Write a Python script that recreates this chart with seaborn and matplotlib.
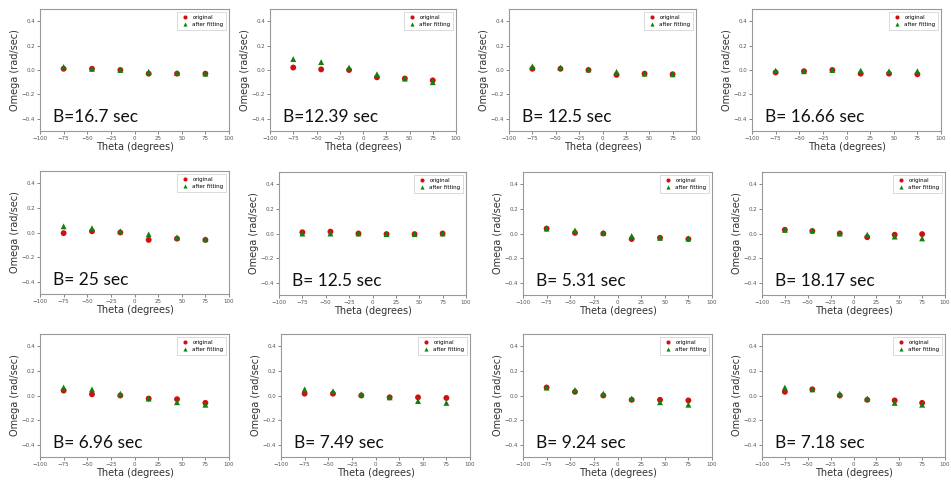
import numpy as np
import pandas as pd
import matplotlib
matplotlib.use("Agg")
import matplotlib.pyplot as plt
import seaborn as sns

# theta positions (degrees) shared by every panel
theta = [-75, -45, -15, 15, 45, 75]

# panel titles, row by row
b_labels = ["B=16.7 sec", "B=12.39 sec", "B= 12.5 sec", "B= 16.66 sec",
            "B= 25 sec", "B= 12.5 sec", "B= 5.31 sec", "B= 18.17 sec",
            "B= 6.96 sec", "B= 7.49 sec", "B= 9.24 sec", "B= 7.18 sec"]

# omega values (rad/sec)
original = [
    [0.01, 0.01, 0.0, -0.03, -0.03, -0.03],
    [0.02, 0.005, 0.0, -0.06, -0.07, -0.085],
    [0.01, 0.01, 0.0, -0.04, -0.03, -0.035],
    [-0.02, -0.01, 0.0, -0.03, -0.03, -0.035],
    [-0.005, 0.01, 0.0, -0.06, -0.05, -0.06],
    [0.01, 0.015, 0.0, -0.005, -0.005, 0.0],
    [0.04, 0.005, 0.0, -0.045, -0.035, -0.045],
    [0.03, 0.02, 0.0, -0.03, -0.01, -0.005],
    [0.04, 0.01, 0.0, -0.025, -0.03, -0.06],
    [0.015, 0.015, 0.0, -0.015, -0.015, -0.02],
    [0.065, 0.03, 0.0, -0.035, -0.035, -0.04],
    [0.03, 0.05, 0.0, -0.035, -0.04, -0.06],
]
after_fitting = [
    [0.025, 0.01, 0.0, -0.015, -0.025, -0.03],
    [0.09, 0.065, 0.02, -0.035, -0.07, -0.10],
    [0.03, 0.02, 0.005, -0.015, -0.03, -0.035],
    [-0.005, -0.01, 0.0, -0.005, -0.01, -0.01],
    [0.05, 0.035, 0.01, -0.015, -0.04, -0.055],
    [0.0, 0.0, 0.0, -0.005, -0.005, 0.0],
    [0.04, 0.025, 0.005, -0.02, -0.035, -0.04],
    [0.03, 0.025, 0.0, -0.01, -0.025, -0.04],
    [0.065, 0.05, 0.015, -0.025, -0.055, -0.075],
    [0.05, 0.035, 0.01, -0.015, -0.045, -0.06],
    [0.065, 0.045, 0.015, -0.025, -0.055, -0.075],
    [0.065, 0.05, 0.015, -0.025, -0.06, -0.075],
]

# axes boxes in pixels: left, right, top, bottom (the source is a collage)
boxes = [
    (40, 229, 9, 131), (270, 456, 9, 131), (509, 696, 9, 131), (752, 941, 9, 131),
    (40, 229, 171, 294), (279, 466, 172, 295), (523, 712, 172, 295), (762, 945, 172, 295),
    (40, 229, 334, 457), (281, 470, 334, 457), (523, 712, 334, 457), (762, 945, 334, 457),
]

W, H = 951, 482
fig = plt.figure(figsize=(W / 100, H / 100), dpi=100)

for i in range(12):
    l, r, t, b = boxes[i]
    ax = fig.add_axes([l / W, 1 - b / H, (r - l) / W, (b - t) / H])
    df = pd.DataFrame({
        "theta": theta * 2,
        "omega": original[i] + after_fitting[i],
        "series": ["original"] * 6 + ["after fitting"] * 6,
    })
    sns.scatterplot(data=df, x="theta", y="omega", hue="series", style="series",
                    palette={"original": "#d01010", "after fitting": "#108010"},
                    markers={"original": "o", "after fitting": "^"},
                    s=18, edgecolor="none", ax=ax)
    ax.set_xlim(-100, 100)
    ax.set_ylim(-0.5, 0.5)
    ax.set_xticks([-100, -75, -50, -25, 0, 25, 50, 75, 100])
    ax.set_yticks([-0.4, -0.2, 0.0, 0.2, 0.4])
    ax.tick_params(labelsize=4, length=2, width=0.5, pad=1.5, colors="#555555")
    for sp in ax.spines.values():
        sp.set_color("#999999")
        sp.set_linewidth(0.8)
    ax.set_xlabel("Theta (degrees)", fontsize=7, labelpad=1, color="#333333")
    ax.set_ylabel("Omega (rad/sec)", fontsize=7, labelpad=1, color="#333333")
    leg = ax.legend(loc="upper right", fontsize=4, markerscale=0.7,
                    handletextpad=0.3, borderpad=0.5, framealpha=1,
                    edgecolor="#cccccc", fancybox=False)
    leg.get_frame().set_linewidth(0.5)
    ax.text(0.07, 0.07, b_labels[i], transform=ax.transAxes, fontsize=12.5,
            family="Lato", color="#111111", va="baseline")

fig.savefig("out.png", dpi=100)
